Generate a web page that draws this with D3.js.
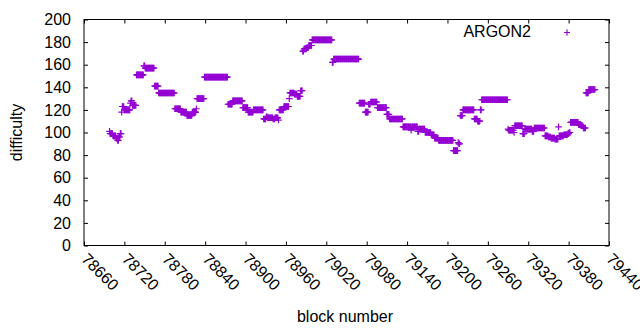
<!DOCTYPE html>
<html>
<head>
<meta charset="utf-8">
<script src="https://cdn.jsdelivr.net/npm/d3@7"></script>
<style>
  body { margin: 0; background: #fff; }
  svg text { font-family: "Liberation Sans", Arial, sans-serif; font-size: 16px; fill: #000; }
</style>
</head>
<body>
<div id="chart"></div>
<script>
// difficulty stays the same for runs of blocks: block where each run starts, and its value
var runStart = [78698, 78699, 78703, 78708, 78710, 78712, 78714, 78716, 78717, 78720,
  78729, 78730, 78732, 78738, 78749, 78751, 78765, 78771, 78795, 78804,
  78813, 78821, 78827, 78828, 78839, 78874, 78881, 78896, 78904, 78912,
  78927, 78931, 78933, 78941, 78944, 78949, 78950, 78957, 78965, 78966,
  78973, 78977, 78982, 78985, 78987, 78991, 78994, 78999, 79029, 79031,
  79069, 79078, 79083, 79086, 79096, 79110, 79114, 79134, 79146, 79147,
  79156, 79158, 79167, 79176, 79181, 79187, 79209, 79216, 79217, 79219,
  79223, 79240, 79245, 79249, 79251, 79290, 79291, 79299, 79300, 79312,
  79315, 79326, 79329, 79345, 79350, 79354, 79360, 79365, 79366, 79373,
  79379, 79381, 79383, 79395, 79399, 79402, 79406, 79410];
var runValue = [101, 99, 97, 95, 93, 96, 99, 118, 123, 120,
  126, 128, 124, 151, 159, 157, 141, 135, 121, 118,
  115, 118, 121, 130, 149, 125, 128, 122, 118, 120,
  112, 114, 113, 112, 113, 111, 120, 123, 130, 135,
  134, 132, 137, 172, 174, 175, 177, 182, 162, 165,
  126, 118, 125, 127, 122, 116, 112, 105, 102, 105,
  101, 103, 100, 98, 95, 93, 84, 91, 90, 115,
  120, 112, 110, 120, 129, 103, 102, 100, 106, 99,
  103, 101, 104, 97, 96, 95, 94, 105, 97, 98,
  99, 100, 109, 107, 106, 104, 135, 138];
var lastBlock = 79419;

var xTicks = [78660, 78720, 78780, 78840, 78900, 78960, 79020, 79080, 79140, 79200, 79260, 79320, 79380, 79440];
var yTicks = [0, 20, 40, 60, 80, 100, 120, 140, 160, 180, 200];

var svgWidth = 640;
var svgHeight = 330;
var plot = { left: 84, right: 609, top: 19.5, bottom: 245.5 };
var color = "#9400d3";
var half = 3.3;

var points = [];
runStart.forEach(function(s, i) {
    var e = i + 1 < runStart.length ? runStart[i + 1] - 1 : lastBlock;
    for (var b = s; b <= e; b++) points.push({ block: b, difficulty: runValue[i] });
});

var svg = d3.select("#chart")
    .append("svg")
    .attr("width", svgWidth)
    .attr("height", svgHeight);

var x = d3.scaleLinear().domain([78660, 79440]).range([plot.left, plot.right]);
var y = d3.scaleLinear().domain([0, 200]).range([plot.bottom, plot.top]);

function plus(px, py, h) {
    return "M" + (px - h) + "," + py + "h" + (2 * h) + "M" + px + "," + (py - h) + "v" + (2 * h);
}

// points
svg.append("g")
    .selectAll("path")
    .data(points)
    .join("path")
    .attr("d", d => plus(x(d.block), y(d.difficulty), half))
    .attr("fill", "none")
    .attr("stroke", color)
    .attr("stroke-width", 1.2);

// axes, ticks pointing inward
var axisL = svg.append("g")
    .attr("transform", `translate(${plot.left}, 0)`)
    .call(d3.axisLeft(y).tickValues(yTicks).tickSize(-4).tickPadding(13));
var axisR = svg.append("g")
    .attr("transform", `translate(${plot.right}, 0)`)
    .call(d3.axisRight(y).tickValues(yTicks).tickSize(-4).tickFormat(""));
var axisT = svg.append("g")
    .attr("transform", `translate(0, ${plot.top})`)
    .call(d3.axisTop(x).tickValues(xTicks).tickSize(-4).tickFormat(""));
var axisB = svg.append("g")
    .attr("transform", `translate(0, ${plot.bottom})`)
    .call(d3.axisBottom(x).tickValues(xTicks).tickSize(-4).tickFormat(d3.format("d")));

axisB.selectAll("text")
    .attr("y", 0)
    .attr("dy", "0.35em")
    .attr("transform", "translate(0, 10.5) rotate(45)")
    .style("text-anchor", "start");

[axisL, axisR, axisT, axisB].forEach(function(g) {
    g.select(".domain").remove();
    g.attr("font-family", null).attr("font-size", null);
    g.selectAll("line").attr("stroke", "#000");
    g.selectAll("text").attr("fill", "#000");
});

svg.append("rect")
    .attr("x", plot.left)
    .attr("y", plot.top)
    .attr("width", plot.right - plot.left)
    .attr("height", plot.bottom - plot.top)
    .attr("fill", "none")
    .attr("stroke", "#000")
    .attr("stroke-width", 1);

// legend
svg.append("text")
    .attr("x", 531)
    .attr("y", 37)
    .style("text-anchor", "end")
    .text("ARGON2");
svg.append("path")
    .attr("d", plus(567, 32.5, 3))
    .attr("stroke", color)
    .attr("stroke-width", 1.2);

// axis titles
svg.append("text")
    .attr("transform", `translate(22, ${(plot.top + plot.bottom) / 2}) rotate(-90)`)
    .style("text-anchor", "middle")
    .text("difficulty");

svg.append("text")
    .attr("x", 345)
    .attr("y", 321.5)
    .style("text-anchor", "middle")
    .text("block number");
</script>
</body>
</html>
